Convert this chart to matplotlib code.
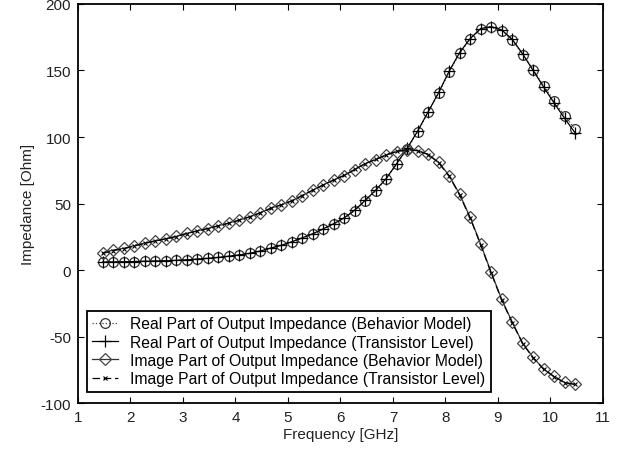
import numpy as np
import matplotlib
matplotlib.use('Agg')
import matplotlib.pyplot as plt

plt.rcParams['font.family'] = ['Liberation Sans', 'DejaVu Sans']
plt.rcParams['axes.unicode_minus'] = False

# frequency grid [GHz], 0.2 GHz steps
freq = np.round(1.47 + 0.2 * np.arange(46), 2)

real_bm = [6.2, 6.2, 6.3, 6.4, 6.6, 6.8, 7.0, 7.3, 7.7, 8.2,
           8.8, 9.5, 10.3, 11.3, 12.5, 14.2, 16.5, 18.5, 21, 24,
           27, 30.8, 34.6, 38.9, 44.6, 52, 59.6, 68.4, 79.7, 91,
           104, 118.6, 133, 149, 163, 173.7, 181, 182.5, 180, 173,
           162, 150.6, 138.6, 127, 116, 106]
real_tl = [6.0, 6.1, 6.2, 6.4, 6.6, 6.8, 7.0, 7.3, 7.7, 8.2,
           8.8, 9.5, 10.4, 11.4, 12.6, 14.3, 16.5, 18.6, 21.2, 24.2,
           27.2, 31, 34.8, 39.2, 45, 52.4, 60, 68.8, 80, 91.5,
           104.5, 119, 133.5, 149.5, 163.5, 174, 181.5, 183, 180.5, 173.5,
           162.5, 150, 137.5, 125.5, 114, 103]
imag_bm = [13, 15, 16.3, 18.3, 20.3, 22, 23.5, 25.3, 27.6, 29.5,
           31.2, 33.3, 35.3, 37.6, 40, 43, 46.5, 49, 52, 56,
           60, 64, 67.7, 71, 75.5, 80, 83, 86.5, 89, 90.5,
           89.7, 87, 81, 71, 57, 39.6, 19.5, -1.7, -22, -39,
           -55, -65.7, -74.4, -80, -84.5, -86]
imag_tl = [12.5, 14.6, 16.0, 18.0, 20.0, 21.8, 23.4, 25.2, 27.4, 29.3,
           31.1, 33.2, 35.2, 37.5, 40, 43, 46.3, 49, 52, 56,
           60, 64, 67.8, 71.2, 75.6, 80, 83.2, 86.6, 89.2, 90.6,
           89.8, 86.8, 80.6, 70.5, 56.5, 39, 19, -2.2, -22.5, -39.5,
           -55.3, -66, -74.6, -80.2, -84.6, -86]

labels = ['Real Part of Output Impedance (Behavior Model)',
          'Real Part of Output Impedance (Transistor Level)',
          'Image Part of Output Impedance (Behavior Model)',
          'Image Part of Output Impedance (Transistor Level)']

fig = plt.figure(figsize=(6.32, 4.52), dpi=100)
ax = fig.add_axes([0.1234, 0.106, 0.8307, 0.883])

ax.plot(freq, real_bm, ':', color='#444444', lw=0.9, marker='o', ms=7,
        mfc='none', mec='#333333', mew=0.9, label=labels[0])
ax.plot(freq, real_tl, '-', color='black', lw=0.9, marker='+', ms=8,
        mew=0.9, label=labels[1])
ax.plot(freq, imag_bm, '-', color='#333333', lw=0.9, marker='D', ms=5.8,
        mfc='none', mec='#444444', mew=0.9, label=labels[2])
ax.plot(freq, imag_tl, '--', color='black', lw=0.9, marker='x', ms=3.5,
        mew=0.8, dashes=(6, 3), label=labels[3])

ax.set_xlim(1, 11)
ax.set_ylim(-100, 200)
ax.set_xticks(range(1, 12))
ax.set_yticks(range(-100, 201, 50))
ax.tick_params(direction='in', top=True, right=True, labelsize=11, length=4,
               colors='black', labelcolor='#222222', pad=5)
for s in ax.spines.values():
    s.set_linewidth(1.3)
ax.set_xlabel('Frequency [GHz]', fontsize=11, color='#222222', labelpad=2)
ax.set_ylabel('Impedance [Ohm]', fontsize=11, color='#222222', labelpad=4)

leg = ax.legend(loc='lower left', bbox_to_anchor=(0.017, 0.028), borderaxespad=0,
                fontsize=11.3, fancybox=False, framealpha=1, edgecolor='black',
                handlelength=1.6, handletextpad=0.8, labelspacing=0.22,
                borderpad=0.35)
leg.get_frame().set_linewidth(1.3)

fig.savefig('out.png', dpi=100)
